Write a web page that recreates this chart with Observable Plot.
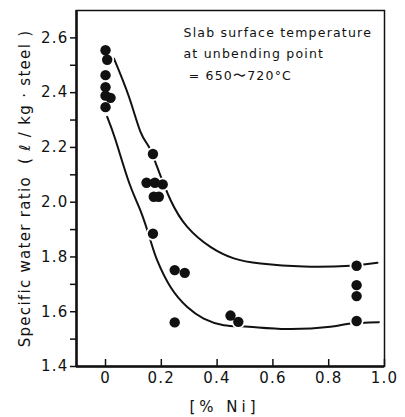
<!DOCTYPE html>
<html>
<head>
<meta charset="utf-8">
<script src="https://cdn.jsdelivr.net/npm/d3@7"></script>
<script src="https://cdn.jsdelivr.net/npm/@observablehq/plot@0.6"></script>
<style>
  body { margin: 0; background: #fff; }
  svg text { letter-spacing: 1.2px; }
  g.xlab text { letter-spacing: 4px; }
  g.ylab text { letter-spacing: 1.3px; }
</style>
</head>
<body>
<div id="chart"></div>
<script>
// Tick values and domains
const xTicks = [0, 0.2, 0.4, 0.6, 0.8, 1.0];
const yTicks = [1.4, 1.6, 1.8, 2.0, 2.2, 2.4, 2.6];
const yMinorTicks = [1.5, 1.7, 1.9, 2.1, 2.3, 2.5];
const xDomain = [-0.104, 1.0];
const yDomain = [1.4, 2.7];

// Measured points: % Ni vs specific water ratio
const pointNi    = [0, 0.006, 0, 0, 0, 0.018, 0,
                    0.17, 0.147, 0.177, 0.205, 0.173, 0.191, 0.17,
                    0.248, 0.284, 0.248, 0.448, 0.476,
                    0.9, 0.9, 0.9, 0.9];
const pointWater = [2.555, 2.52, 2.464, 2.42, 2.389, 2.381, 2.347,
                    2.176, 2.071, 2.071, 2.065, 2.02, 2.02, 1.885,
                    1.752, 1.742, 1.561, 1.586, 1.563,
                    1.768, 1.697, 1.657, 1.566];

// Upper and lower envelope curves
const upperNi    = [0.03, 0.084, 0.125, 0.155, 0.185, 0.233, 0.293, 0.376, 0.46, 0.556, 0.711, 0.878, 0.975];
const upperWater = [2.525, 2.385, 2.258, 2.203, 2.129, 2.008, 1.91, 1.837, 1.795, 1.776, 1.765, 1.768, 1.779];
const lowerNi    = [0.006, 0.036, 0.085, 0.125, 0.161, 0.185, 0.233, 0.293, 0.352, 0.424, 0.514, 0.651, 0.806, 0.878, 0.98];
const lowerWater = [2.312, 2.227, 2.07, 1.97, 1.861, 1.788, 1.69, 1.617, 1.575, 1.551, 1.545, 1.537, 1.545, 1.557, 1.562];

const annotation = "Slab surface temperature\nat unbending point\n = 650〜720°C";
const yLabel = "Specific water ratio  ( ℓ / kg · steel )";
const xLabel = "[% Ni]";

const points = pointNi.map((x, i) => ({x, y: pointWater[i]}));
const upper = upperNi.map((x, i) => ({x, y: upperWater[i]}));
const lower = lowerNi.map((x, i) => ({x, y: lowerWater[i]}));

const chart = Plot.plot({
  width: 405,
  height: 417,
  marginLeft: 76,
  marginRight: 21,
  marginTop: 10,
  marginBottom: 51,
  style: {fontFamily: "DejaVu Sans", fontSize: "15px", color: "#111", background: "#fff"},
  x: {domain: xDomain},
  y: {domain: yDomain},
  marks: [
    Plot.line(upper, {x: "x", y: "y", curve: "natural", stroke: "#111", strokeWidth: 2}),
    Plot.line(lower, {x: "x", y: "y", curve: "natural", stroke: "#111", strokeWidth: 2}),
    Plot.dot(points, {x: "x", y: "y", r: 7, fill: "white", stroke: "none"}),
    Plot.dot(points, {x: "x", y: "y", r: 5.2, fill: "#111", stroke: "none"}),
    Plot.frame({stroke: "#111", strokeWidth: 1.5}),
    Plot.ruleX([xDomain[0]], {stroke: "#111", strokeWidth: 2.5}),
    Plot.ruleY([yDomain[0]], {stroke: "#111", strokeWidth: 2.5}),
    Plot.tickX(xTicks, {x: d => d, insetTop: 349, stroke: "#111", strokeWidth: 1.5}),
    Plot.axisX({ticks: xTicks, tickSize: 0, tickPadding: 6, tickFormat: d => d === 0 ? "0" : d.toFixed(1), label: null, fontSize: 15}),
    Plot.axisY({ticks: yMinorTicks, tickSize: 6, tickFormat: () => "", label: null, strokeWidth: 1.5}),
    Plot.axisY({ticks: yTicks, tickSize: 6, tickPadding: 2, tickFormat: d => d.toFixed(1), label: null, strokeWidth: 1.5, fontSize: 15}),
    Plot.text([yLabel], {frameAnchor: "left", rotate: -90, dx: -51, textAnchor: "middle", lineAnchor: "middle", fontSize: 15, fill: "#111", className: "ylab"}),
    Plot.text([xLabel], {frameAnchor: "bottom", dx: -6, dy: 41, textAnchor: "middle", lineAnchor: "middle", fontSize: 15, fill: "#111", className: "xlab"}),
    Plot.text([annotation], {frameAnchor: "top-left", dx: 107, dy: 11, textAnchor: "start", lineAnchor: "top", lineHeight: 1.72, fontSize: 12.5, fill: "#111"})
  ]
});
document.getElementById("chart").appendChild(chart);
</script>
</body>
</html>
